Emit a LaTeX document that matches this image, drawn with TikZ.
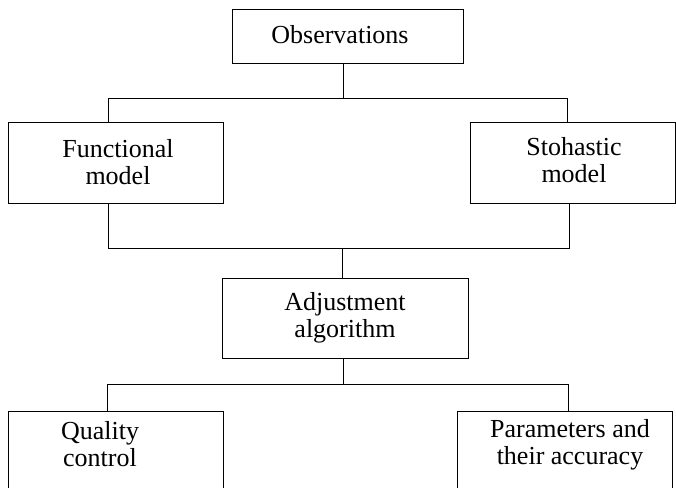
\documentclass[tikz,border=0pt]{standalone}
\usepackage{fontspec}
\setmainfont{Liberation Serif}
\begin{document}
\begin{tikzpicture}[x=1pt, y=-1pt,
        line width=0.8pt,
        box/.style={draw, rectangle, inner sep=0pt},
        txt/.style={align=center, inner sep=0pt, font=\fontsize{26}{27}\selectfont}
    ]
    \useasboundingbox (0,0) rectangle (676,487);
    \clip (0,0) rectangle (676,487);

    % boxes
    \node[box, minimum width=231, minimum height=54] (obs) at (347.5,36) {};
    \node[box, minimum width=215, minimum height=81] (func) at (115.5,162.5) {};
    \node[box, minimum width=205.5, minimum height=81] (stoch) at (572.75,162.5) {};
    \node[box, minimum width=246, minimum height=80] (adj) at (345,318) {};
    \node[box, minimum width=215, minimum height=89] (qual) at (115.5,455.5) {};
    \node[box, minimum width=215, minimum height=89] (par) at (564.5,455.5) {};

    % texts
    \node[txt] (obs-t) at (340,35) {Observations};
    \node[txt] (func-t) at (118,162.5) {Functional\\model};
    \node[txt] (stoch-t) at (574,160) {Stohastic\\model};
    \node[txt] (adj-t) at (345,318) {Adjustment\\algorithm};
    \node[txt] (qual-t) at (100,444) {Quality\\control};
    \node[txt] (par-t) at (570,444.5) {Parameters and\\their accuracy};

    % junctions
    \coordinate (j1) at (343,98);
    \coordinate (b1l) at (108,98);
    \coordinate (b1r) at (567,98);
    \coordinate (j2) at (342,248);
    \coordinate (b2l) at (108,248);
    \coordinate (b2r) at (569,248);
    \coordinate (j3) at (343,384);
    \coordinate (b3l) at (107,384);
    \coordinate (b3r) at (568,384);

    \draw (obs.south -| j1) -- (j1);
    \draw (b1l |- func.north) -- (b1l) -- (b1r) -- (b1r |- stoch.north);
    \draw (func.south -| b2l) -- (b2l) -- (b2r) -- (stoch.south -| b2r);
    \draw (j2) -- (adj.north -| j2);
    \draw (adj.south -| j3) -- (j3);
    \draw (b3l |- qual.north) -- (b3l) -- (b3r) -- (b3r |- par.north);
\end{tikzpicture}
\end{document}
